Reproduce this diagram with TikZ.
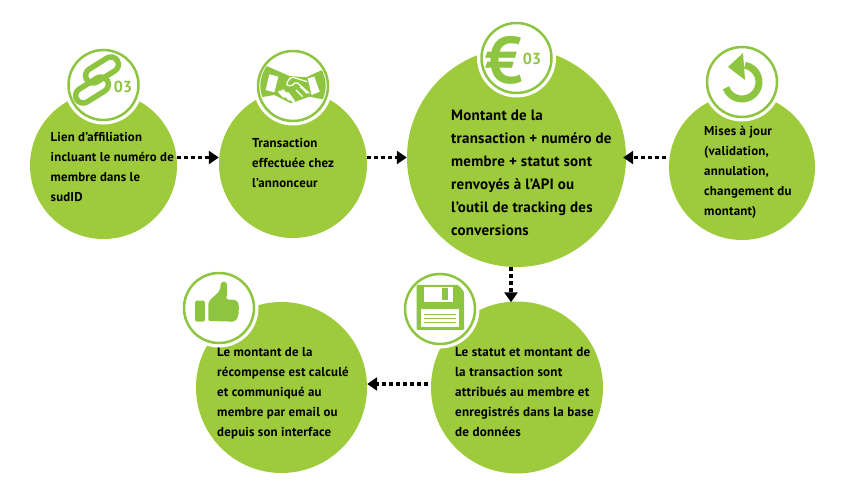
\documentclass[tikz,border=0pt]{standalone}
\usepackage{fontspec}
\setmainfont{PT Sans}[LetterSpace=1.5]
\usetikzlibrary{arrows.meta}
\definecolor{leaf}{HTML}{9DCB3B}
\definecolor{iconleaf}{HTML}{8DC540}
\begin{document}
\begin{tikzpicture}[
        x=1pt, y=1pt,
        bigdisc/.style={circle, fill=leaf, inner sep=0pt, minimum size=#1},
        icondisc/.style={circle, fill=white, draw=iconleaf, line width=2.5pt, inner sep=0pt, minimum size=70pt,
            preaction={draw=white, line width=9pt}},
        infotext/.style={anchor=west, align=left, inner sep=0pt, font=\fontsize{#1}{20}\selectfont\bfseries, text=black},
        dotarrow/.style={draw=black, line width=3.6pt, dash pattern=on 3.6pt off 3.4pt, -{Triangle[length=10pt, width=13pt]}},
        chain/.style={draw=iconleaf, line width=5.5pt, rectangle, rounded corners=7.5pt, minimum width=36pt, minimum height=15pt, rotate=32, inner sep=0pt},
        iconnum/.style={text=iconleaf, inner sep=0pt, font=\fontsize{16}{16}\selectfont\bfseries},
    ]
    \useasboundingbox (0,0) rectangle (850,498);
    \node[bigdisc=147pt](c1) at (103.5,332.5){};
    \node[bigdisc=148pt](c2) at (293,334){};
    \node[bigdisc=219pt](c3) at (516.5,340.5){};
    \node[bigdisc=146pt](c4) at (742,331){};
    \node[bigdisc=171pt](c5) at (281.5,110.5){};
    \node[bigdisc=172pt](c6) at (517,110.5){};

    \draw[dotarrow] (c1.east |- c3) -- (c2.west |- c3);
    \draw[dotarrow] (c2.east |- c3) -- (c3.west);
    \draw[dotarrow, shorten >=-3pt] ([xshift=-3pt]c4.west |- c3) -- (c3.east);
    \draw[dotarrow] ([xshift=-5.5pt]c3.south) -- ([xshift=-6pt, yshift=-1pt]c6.north);
    \draw[dotarrow] ([xshift=-3pt, yshift=3.5pt]c6.west) -- ([yshift=3.5pt]c5.east);

    \node[infotext=12.8](t1) at (50.5,330.5){Lien d'affiliation\\incluant le numéro de\\membre dans le\\sudID};
    \node[infotext=12.9](t2) at (252,335){Transaction\\effectuée chez\\l'annonceur};
    \node[infotext=15, font=\fontsize{15}{23}\selectfont\bfseries](t3) at (451,325.5){Montant de la\\transaction + numéro de\\membre + statut sont\\renvoyés à l'API ou\\l'outil de tracking des\\conversions};
    \node[infotext=12.9](t4) at (704,326){Mises à jour\\(validation,\\annulation,\\changement du\\montant)};
    \node[infotext=12.9](t5) at (217,105){Le montant de la\\récompense est calculé\\et communiqué au\\membre par email ou\\depuis son interface};
    \node[infotext=13.1](t6) at (455,106){Le statut et montant de\\la transaction sont\\attribués au membre et\\enregistrés dans la base\\de données};

    \node[icondisc](i1) at (103.5,413){};
    \node[icondisc](i2) at (293,412){};
    \node[icondisc](i3) at (516.5,440){};
    \node[icondisc](i4) at (742,416){};
    \node[icondisc](i5) at (219,190){};
    \node[icondisc](i6) at (440,189){};

    \node[chain](l1) at (102,428){};
    \node[chain](l2) at (92,408){};
    \node[iconnum](n1) at (123,411){03};

    \begin{scope}[shift={(241,458)}, x=.3333pt, y=-.3333pt]
        \clip (156,137) circle (98);
        \fill[iconleaf] (40,62) -- (145,108) -- (195,112) -- (270,78) -- (280,185) -- (205,170) -- (150,190) -- (100,165) -- (40,175) -- cycle;
        \fill[white] (85,103) -- (112,110) -- (100,157) -- (74,150) -- cycle;
        \fill[white] (200,115) -- (220,110) -- (236,155) -- (212,165) -- cycle;
        \draw[white, line width=1.2pt, rounded corners=2pt] (198,125) -- (150,110) -- (135,133) -- (150,140) -- (165,125) -- (205,160);
        \draw[white, line width=1.2pt] (165,150) -- (185,170) (178,140) -- (198,160);
        \draw[white, line width=3pt, line cap=round] (115,155) -- (130,170) (125,152) -- (145,178) (140,160) -- (158,185);
    \end{scope}
    \node[inner sep=0pt, text=iconleaf, font=\fontsize{66}{66}\selectfont\bfseries](euro) at (504,438){€};
    \node[iconnum](n3) at (532,439){03};

    \draw[iconleaf, line width=7pt] (742,416) ++(200:17) arc (200:440:17);
    \fill[iconleaf] (728,431) -- (743,445) -- (745,418) -- cycle;

    \begin{scope}[shift={(170,238)}, x=.3333pt, y=-.3333pt]
        \fill[iconleaf, rounded corners=1.5pt] (75,122) rectangle (105,185);
        \fill[iconleaf, rounded corners=2pt] (115,125) -- (150,92) -- (153,65) -- (170,65) -- (172,100) -- (168,118) -- (200,120) -- (207,135) -- (205,170) -- (195,185) -- (115,183) -- cycle;
    \end{scope}
    \begin{scope}[shift={(390,238)}, x=.3333pt, y=-.3333pt]
        \fill[iconleaf, rounded corners=1pt] (80,75) -- (205,75) -- (222,95) -- (222,210) -- (80,210) -- cycle;
        \fill[white] (103,80) rectangle (190,125);
        \fill[iconleaf] (155,85) rectangle (175,120);
        \fill[white] (93,148) rectangle (208,200);
        \draw[iconleaf, line width=.7pt] (103,162) -- (198,162) (103,175) -- (198,175) (103,188) -- (198,188);
    \end{scope}
\end{tikzpicture}
\end{document}
